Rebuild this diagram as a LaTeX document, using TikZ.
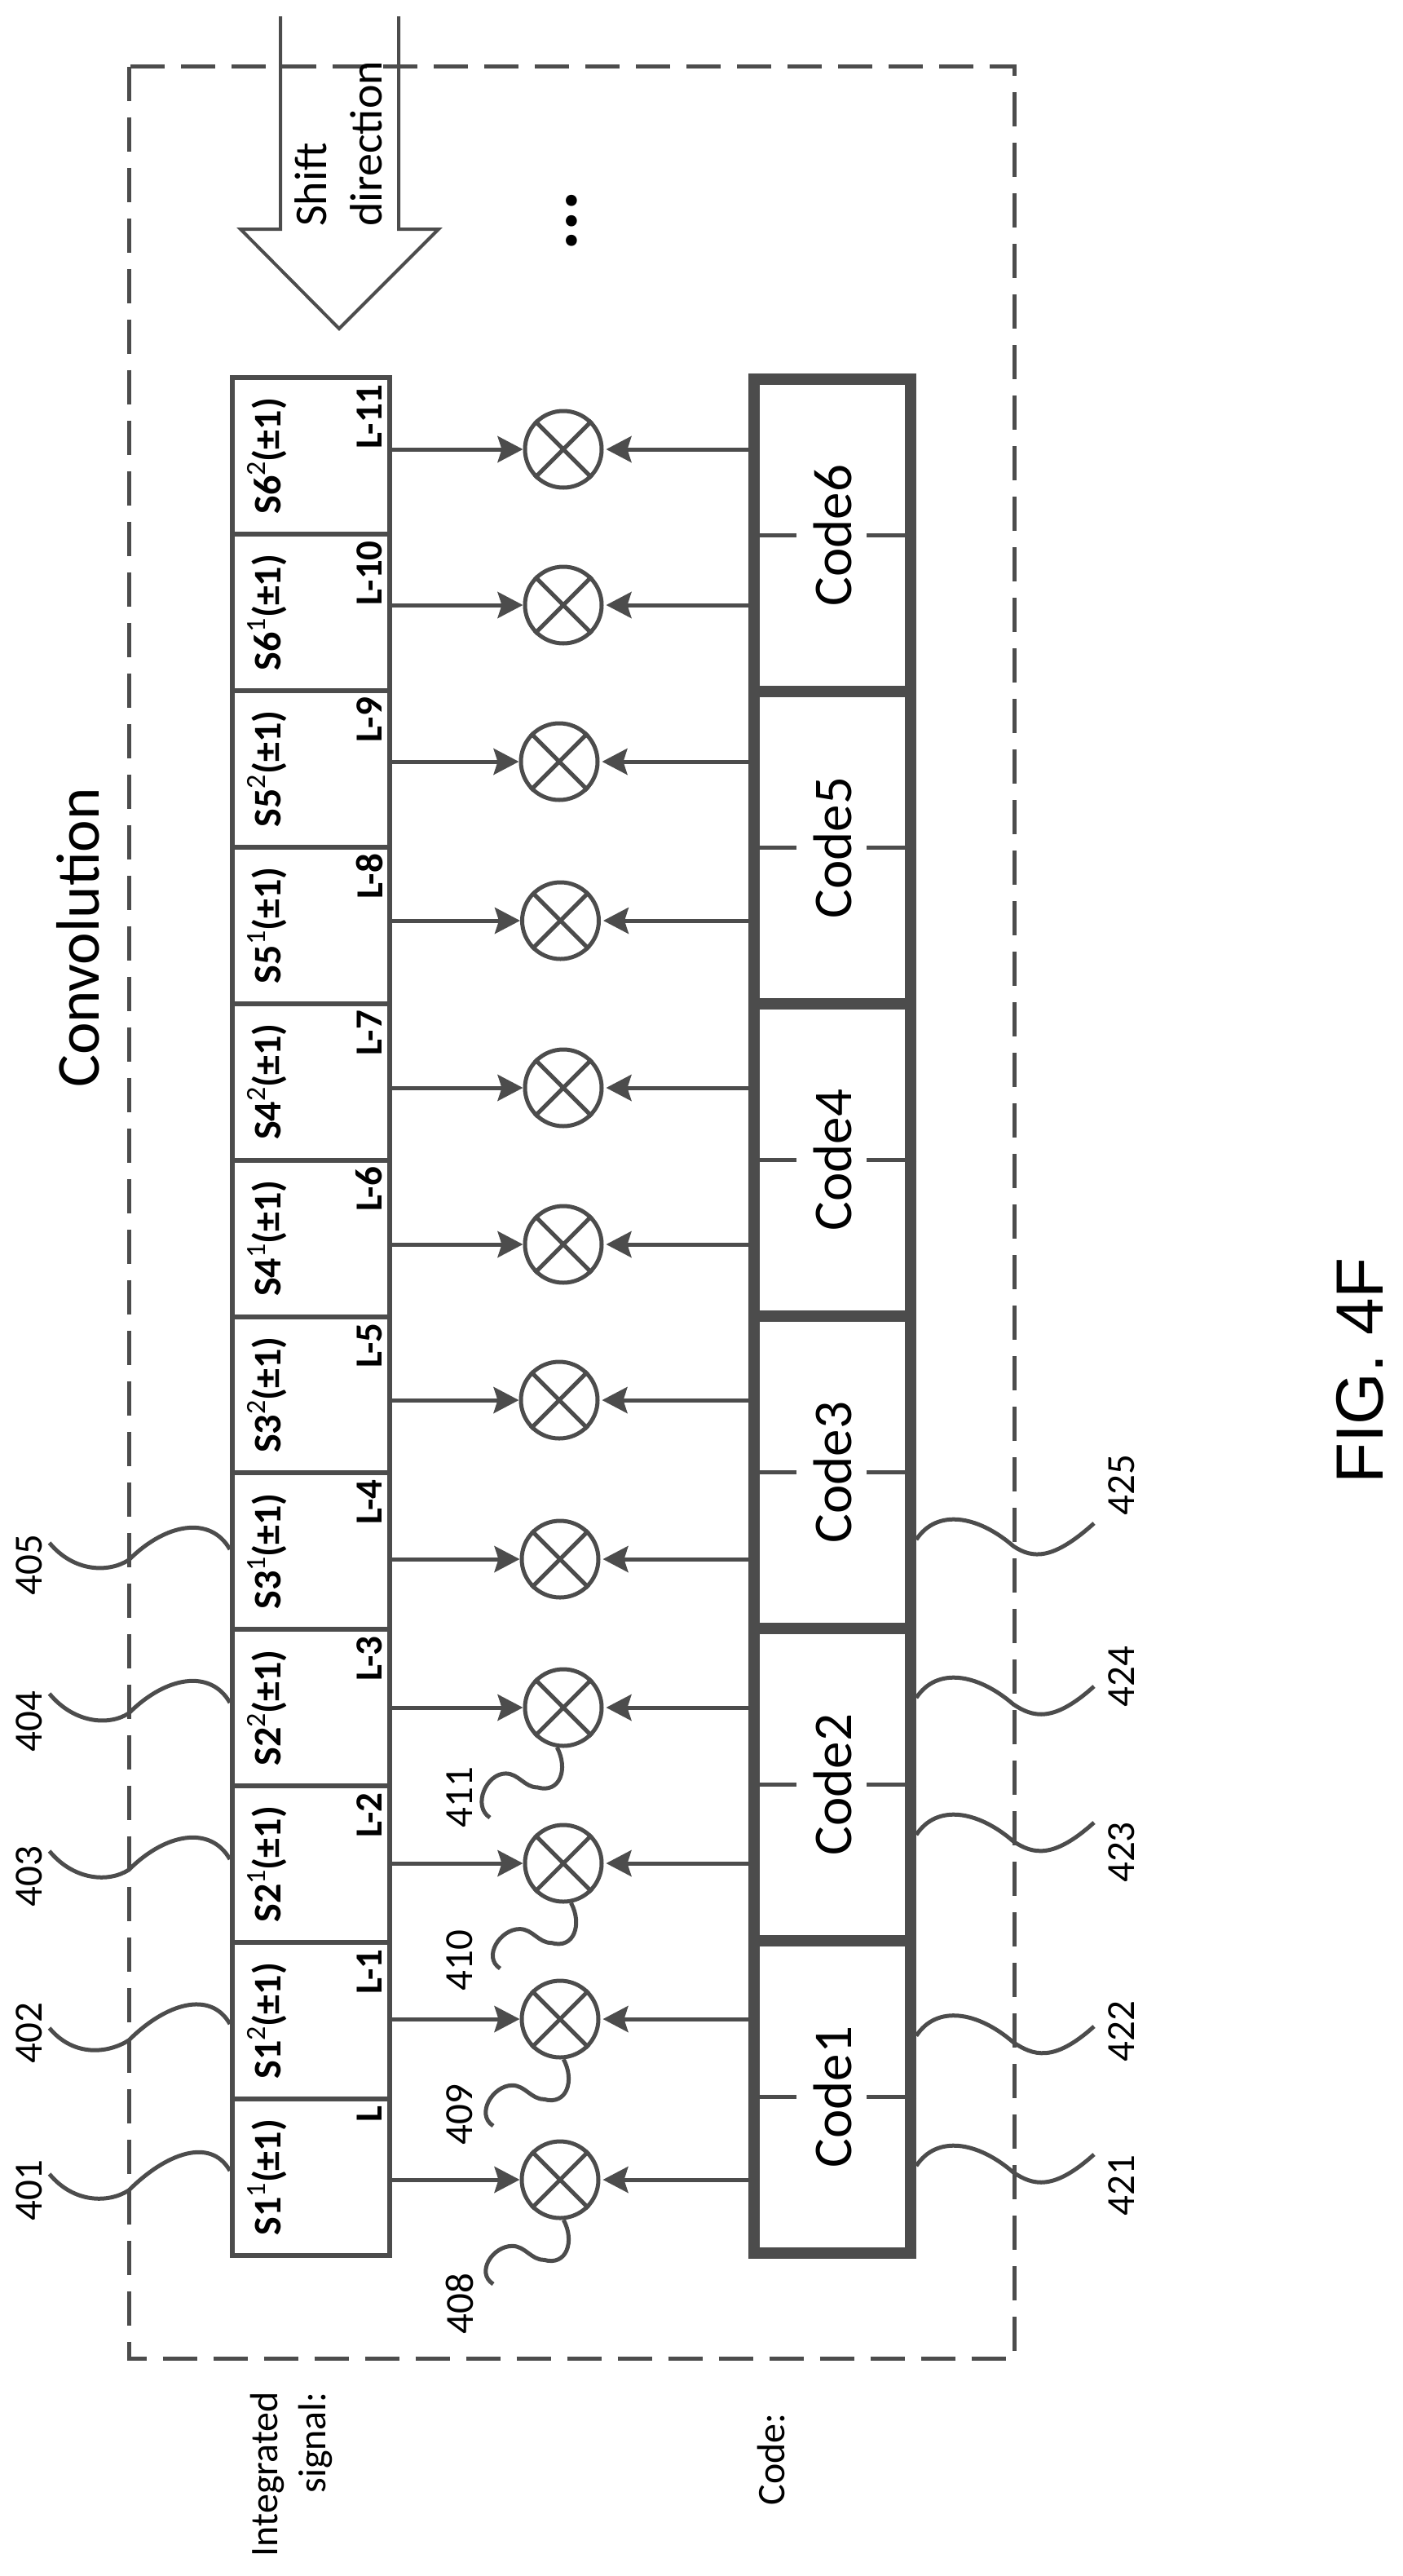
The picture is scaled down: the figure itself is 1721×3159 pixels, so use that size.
\documentclass[tikz,border=0pt]{standalone}
\usepackage{fontspec}
\usepackage{graphicx}
\setmainfont{Carlito}
\newfontfamily\figfont{Liberation Sans}
\usetikzlibrary{arrows.meta}
\definecolor{halftone}{gray}{0.3}
\newcommand{\supdigit}[1]{\raisebox{19pt}{\fontsize{34}{36}\selectfont\mdseries #1}}
\tikzset{
	sigcell/.style={draw=halftone,line width=6pt,rectangle,minimum width=193pt,minimum height=191.9pt,inner sep=0pt},
	codecell/.style={draw=halftone,line width=14pt,rectangle,minimum width=192pt,minimum height=383pt,inner sep=0pt,font=\fontsize{67}{70}\selectfont},
	mulnode/.style={draw=halftone,line width=5pt,circle,minimum size=94pt,inner sep=0pt},
	sigtext/.style={rotate=90,inner sep=0pt,font=\fontsize{48}{50}\selectfont\bfseries},
	lentext/.style={rotate=90,anchor=east,inner sep=0pt,font=\fontsize{47}{50}\selectfont\bfseries},
	tagtext/.style={rotate=90,inner sep=0pt,font=\fontsize{49}{50}\selectfont},
	notetext/.style={rotate=90,inner sep=0pt,font=\fontsize{48}{59}\selectfont},
	feedline/.style={draw=halftone,line width=5pt,-{Stealth[length=31pt,width=32pt,inset=5pt]}},
	leadline/.style={draw=halftone,line width=5pt},
	tickline/.style={draw=halftone,line width=5pt},
	boxline/.style={draw=halftone,line width=5pt,dash pattern=on 42pt off 20pt},
	shiftline/.style={draw=halftone,line width=4pt}
}

\begin{document}
\begin{tikzpicture}[x=1pt,y=-1pt]
	\useasboundingbox (0,0) rectangle (1721,3159);
	\draw[boxline] (158,81.5) rectangle (1244.5,2892);
	\draw[shiftline] (344,20) -- (344,281) -- (295,281) -- (416,403) -- (538,281) -- (489,281) -- (489,20);
	\node[notetext,anchor=west,align=left,font=\fontsize{56}{68}\selectfont] (shift) at (415,278) {Shift\\direction};
	\node[rotate=90,inner sep=0pt,font=\fontsize{75}{80}\selectfont] (title) at (96,1150) {Convolution};
	\node[rotate=90,inner sep=0pt,font=\fontsize{92}{96}\selectfont\bfseries] (dots) at (701,271) {...};
	\node[notetext,anchor=east,align=right] (signote) at (357,2933) {Integrated\\signal:};
	\node[notetext] (codenote) at (946,3016) {Code:};
	\node[rotate=90,inner sep=0pt,font=\fontsize{82}{86}\selectfont\figfont] (figlabel) at (1668,1681) {FIG. 4F};

	\foreach \i/\n/\m/\lab in {1/1/1/L,2/1/2/L-1,3/2/1/L-2,4/2/2/L-3,5/3/1/L-4,6/3/2/L-5,7/4/1/L-6,8/4/2/L-7,9/5/1/L-8,10/5/2/L-9,11/6/1/L-10,12/6/2/L-11}{
		\pgfmathsetmacro{\yc}{2670-191.9*(\i-1)}
		\node[sigcell] (s\i) at (381.5,\yc) {};
		\node[sigtext] (st\i) at ([xshift=-53.5pt]s\i.center) {S\n\supdigit{\m}(±1)};
		\node[lentext] (len\i) at ([xshift=-28pt,yshift=-11pt]s\i.north east) {\lab};
	}

	\foreach \c in {1,...,6}{
		\pgfmathsetmacro{\yc}{2571.5-383*(\c-1)}
		\node[codecell] (code\c) at (1021,\yc) {\rotatebox{90}{Code\c}};
		\draw[tickline] (code\c.west) -- +(59,0);
		\draw[tickline] (code\c.east) -- +(-61,0);
	}

	\foreach \i/\mx/\my in {1/687/2673,2/687/2476,3/691/2285,4/691/2094,5/687/1912,6/686/1717,7/691/1526,8/691/1334,9/687.5/1129,10/686/934,11/691/742,12/691/551}{
		\pgfmathtruncatemacro{\c}{(\i+1)/2}
		\node[mulnode] (mul\i) at (\mx,\my) {};
		\draw[tickline] (mul\i.45) -- (mul\i.225);
		\draw[tickline] (mul\i.135) -- (mul\i.-45);
		\draw[feedline] (s\i.east |- mul\i.west) -- (mul\i.west);
		\draw[feedline,shorten >=3pt] (code\c.west |- mul\i.east) -- (mul\i.east);
	}

	\foreach \i/\t/\ty/\sy/\my/\ey in {1/401/2686/2662/24/2666,2/402/2493/2482/20/2487,3/403/2301/2280/13/2270,4/404/2111/2088/13/2077,5/405/1919/1900/13/1892}{
		\node[tagtext] (tag\t) at (36,\ty) {\t};
		\coordinate (end\t) at (60.6,\ey);
		\draw[leadline] (s\i.west |- 0,\sy) .. controls +(-24,-42) and +(45,-45) .. ++(-124,\my) .. controls +(-25,16) and +(30,36) .. (end\t);
	}

	\foreach \c/\t/\ty/\sy/\ey in {1/421/2680/2656/2642,1/422/2491/2496.5/2485,2/423/2271.5/2250/2235,2/424/2056/2082/2068,3/425/1821/1888/1868}{
		\node[tagtext] (tag\t) at (1376,\ty) {\t};
		\coordinate (end\t) at (1342,\ey);
		\draw[leadline] (code\c.east |- 0,\sy) .. controls +(25,-38) and +(-44,-38) .. ++(119,8) .. controls +(24,16) and +(-50,45) .. (end\t);
	}

	\foreach \i/\t/\ty/\a/\ex/\ey in {1/408/2825/-85/605/2801,2/409/2593/-85/605/2607,3/410/2404/-79/613.5/2414,4/411/2204/-99/601/2229}{
		\node[tagtext] (tag\t) at (564,\ty) {\t};
		\coordinate (end\t) at (\ex,\ey);
		\draw[leadline] (mul\i.\a) .. controls +(14,26) and +(28,8) .. ++(-24,49) .. controls +(-16,0) and +(16,0) .. ++(-39,-17) .. controls +(-24,0) and +(-22,-14) .. (end\t);
	}
\end{tikzpicture}
\end{document}
